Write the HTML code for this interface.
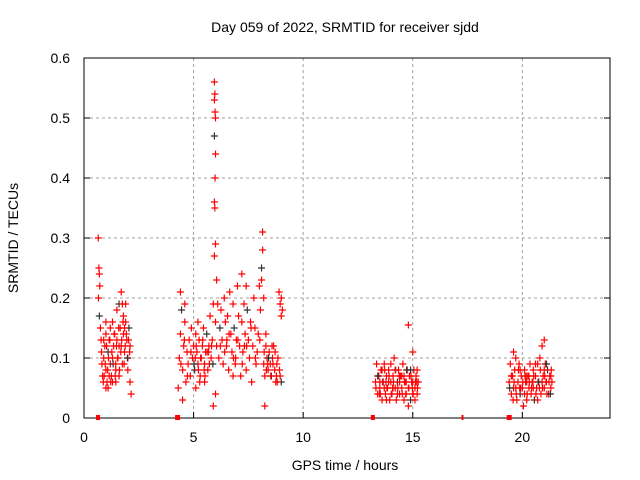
<!DOCTYPE html>
<html><head><meta charset="utf-8"><style>
body{margin:0;background:#fff}
svg{display:block;font-family:"Liberation Sans",sans-serif}
</style></head><body>
<svg id="c" width="640" height="480">
<text x="345" y="32" text-anchor="middle" font-size="14">Day 059 of 2022, SRMTID for receiver sjdd</text>
<text x="18" y="238" text-anchor="middle" font-size="14" transform="rotate(-90 18 238)">SRMTID / TECUs</text>
<text x="345" y="470" text-anchor="middle" font-size="14">GPS time / hours</text>
<g id="grid"></g>
<g id="axes"></g>
<g id="pts"></g>
<g id="marks"></g>
</svg>
<script>
const xTicks=[0,5,10,15,20];
const yTicks=[0,0.1,0.2,0.3,0.4,0.5,0.6];
const yTickLabels=["0","0.1","0.2","0.3","0.4","0.5","0.6"];
const times=[0.65,0.68,0.70,0.72,0.66,0.70,0.75,0.78,0.80,0.82,0.85,0.88,0.90,0.95,1.0,1.0,1.05,1.1,1.1,1.15,1.2,1.25,1.3,1.3,1.35,1.4,1.45,1.5,1.5,1.55,1.6,1.6,1.65,1.7,1.7,1.75,1.8,1.8,1.85,1.9,1.9,1.95,2.0,2.0,2.05,2.1,2.1,2.15,1.45,1.2,0.9,1.0,1.75,
4.3,4.35,4.4,4.4,4.45,4.5,4.5,4.55,4.6,4.65,4.7,4.75,4.8,4.85,4.9,4.95,5.0,5.05,5.1,5.1,5.15,5.2,5.25,5.3,5.35,5.4,5.45,5.5,5.5,5.55,5.6,5.65,5.7,5.75,5.8,5.85,5.9,5.9,5.95,5.97,5.95,5.98,6.0,5.95,6.0,5.98,5.95,5.97,6.0,5.95,6.05,6.1,6.0,6.0,6.05,6.15,6.2,6.25,6.3,6.35,6.4,6.45,6.5,6.55,6.6,6.65,6.7,6.75,6.8,6.85,6.9,6.95,7.0,7.05,7.1,7.15,7.2,7.2,7.25,7.3,7.35,7.4,7.45,7.5,7.55,7.6,7.65,7.7,7.75,7.8,7.85,7.9,7.95,8.0,8.05,8.1,8.15,8.15,8.1,8.2,8.2,8.25,8.25,8.3,8.35,8.4,8.45,8.5,8.55,8.6,8.65,8.7,8.75,8.8,8.85,8.9,8.95,9.0,9.0,9.05,8.95,9.0,4.6,5.2,6.8,7.4,8.3,
13.3,13.35,13.4,13.45,13.5,13.55,13.6,13.65,13.7,13.75,13.8,13.85,13.9,13.95,14.0,14.05,14.1,14.15,14.2,14.25,14.3,14.35,14.4,14.45,14.5,14.55,14.6,14.65,14.7,14.75,14.8,14.8,14.85,14.9,14.95,15.0,15.0,15.05,15.1,15.15,15.2,15.25,13.4,13.6,13.8,14.0,14.2,14.4,14.6,14.8,15.0,15.2,13.5,13.7,13.9,14.1,14.3,14.5,14.7,14.9,15.1,
19.4,19.45,19.5,19.55,19.6,19.6,19.65,19.7,19.75,19.8,19.85,19.9,19.95,20.0,20.05,20.1,20.15,20.2,20.25,20.3,20.35,20.4,20.45,20.5,20.55,20.6,20.65,20.7,20.75,20.8,20.85,20.9,20.95,21.0,21.0,21.05,21.1,21.15,21.2,21.25,21.3,21.35,19.5,19.7,19.9,20.1,20.3,20.5,20.7,20.9,21.1,21.3,20.2,20.6,21.0,
0.92,0.97,1.03,1.08,1.12,1.18,1.22,1.27,1.33,1.38,1.42,1.48,1.53,1.58,1.62,1.68,1.72,1.78,1.83,1.88,1.93,1.98,2.03,2.08,1.00,1.15,1.30,1.45,1.60,1.85,
4.42,4.58,4.72,4.88,5.02,5.12,5.22,5.32,5.42,5.52,5.62,5.72,5.82,5.08,5.28,5.48,5.68,5.88,6.22,6.42,6.62,6.82,7.02,7.22,7.42,7.62,7.82,8.02,8.22,8.32,8.42,8.52,8.62,8.72,8.82,8.92,8.38,8.58,8.78,6.52,6.92,7.32,
13.32,13.42,13.52,13.62,13.72,13.82,13.92,14.02,14.12,14.22,14.32,14.42,14.52,14.62,14.72,14.82,14.92,15.02,15.12,15.22,13.48,13.78,14.08,14.38,14.68,14.98,15.18,
19.42,19.52,19.62,19.72,19.82,19.92,20.02,20.12,20.22,20.32,20.42,20.52,20.62,20.72,20.82,20.92,21.02,21.12,21.22,21.32,19.58,19.88,20.18,20.48,20.78,21.08,21.28];
const values=[.30,.25,.24,.22,.20,.17,.15,.13,.11,.09,.07,.06,.10,.12,.14,.08,.06,.05,.11,.13,.09,.07,.16,.10,.12,.14,.08,.18,.13,.10,.07,.19,.15,.21,.12,.09,.17,.14,.11,.16,.19,.13,.10,.08,.15,.12,.06,.04,.06,.15,.13,.16,.19,
.05,.10,.14,.21,.18,.08,.03,.12,.16,.06,.11,.09,.13,.07,.15,.10,.12,.08,.05,.14,.11,.09,.13,.07,.10,.12,.15,.09,.06,.11,.14,.08,.12,.17,.10,.13,.02,.19,.56,.54,.53,.51,.50,.47,.44,.40,.36,.35,.29,.27,.23,.19,.16,.04,.12,.10,.15,.18,.13,.09,.20,.16,.12,.17,.08,.21,.14,.11,.19,.15,.09,.13,.22,.17,.12,.07,.24,.16,.11,.19,.14,.08,.18,.13,.10,.16,.06,.12,.20,.15,.09,.11,.14,.22,.18,.25,.28,.31,.23,.20,.09,.07,.02,.12,.10,.08,.11,.09,.07,.10,.12,.08,.06,.09,.10,.21,.19,.17,.20,.18,.07,.06,.19,.16,.07,.22,.14,
.06,.09,.04,.07,.05,.08,.03,.06,.09,.04,.07,.05,.08,.03,.06,.04,.07,.10,.05,.03,.06,.08,.04,.07,.05,.09,.03,.06,.04,.08,.155,.05,.07,.03,.06,.11,.04,.08,.05,.07,.04,.06,.07,.08,.03,.09,.08,.06,.07,.02,.06,.08,.06,.05,.06,.05,.04,.07,.06,.08,.03,
.06,.09,.04,.07,.11,.05,.08,.10,.03,.06,.09,.04,.07,.05,.02,.08,.06,.03,.07,.05,.09,.04,.06,.08,.03,.07,.05,.09,.06,.10,.04,.12,.07,.13,.05,.09,.06,.08,.04,.07,.05,.06,.07,.05,.08,.04,.07,.05,.03,.06,.09,.07,.06,.09,.08,
.07,.09,.12,.08,.10,.13,.06,.11,.09,.14,.07,.12,.10,.15,.08,.11,.13,.16,.09,.12,.14,.10,.13,.11,.05,.07,.06,.09,.12,.15,
.09,.13,.07,.11,.09,.12,.08,.10,.13,.07,.11,.09,.12,.10,.06,.08,.11,.09,.12,.11,.14,.10,.13,.09,.12,.15,.10,.13,.11,.08,.10,.07,.09,.11,.06,.08,.09,.12,.07,.13,.10,.12,
.05,.07,.04,.06,.08,.05,.07,.04,.06,.08,.05,.07,.04,.06,.08,.05,.07,.04,.06,.05,.04,.06,.05,.07,.04,.05,.06,
.05,.07,.06,.04,.08,.05,.06,.07,.04,.06,.05,.07,.04,.06,.08,.05,.07,.04,.06,.08,.03,.05,.07,.06,.05,.06,.04];
const gapTimes=[0.64,4.27,13.18,17.27,19.4];
const gapWidths=[4,5,4,2,5];
const X0=84,X1=610,Y0=418,Y1=58;
const xs=t=>X0+(X1-X0)*t/24;
const ys=v=>Y0-(Y0-Y1)*v/0.6;
const NS="http://www.w3.org/2000/svg";
function mk(tag,attrs,parent){const e=document.createElementNS(NS,tag);for(const k in attrs)e.setAttribute(k,attrs[k]);parent.appendChild(e);return e;}
const grid=document.getElementById('grid'),axes=document.getElementById('axes'),pts=document.getElementById('pts'),marks=document.getElementById('marks');
xTicks.forEach((t,i)=>{
  if(t>0){const g=mk('line',{x1:xs(t),x2:xs(t),y1:Y1,y2:Y0,stroke:'#a0a0a0','stroke-dasharray':'3,3'},grid);
  
  }
  const tk=mk('line',{x1:xs(t),x2:xs(t),y1:Y0,y2:Y0-6,stroke:'#000'},axes);
  
  
  const lb=mk('text',{x:xs(t),y:442,'text-anchor':'middle','font-size':14},axes);
  lb.textContent=String(t);
  
  
});
yTicks.forEach((v,i)=>{
  if(v>0&&v<0.6){const g=mk('line',{x1:X0,x2:X1,y1:ys(v),y2:ys(v),stroke:'#a0a0a0','stroke-dasharray':'3,3'},grid);
  
  }
  const tk=mk('line',{x1:X0,x2:X0+6,y1:ys(v),y2:ys(v),stroke:'#000'},axes);
  
  
  const tk2=mk('line',{x1:X1,x2:X1-6,y1:ys(v),y2:ys(v),stroke:'#000'},axes);
  
  
  const lb=mk('text',{x:70,y:ys(v)+5,'text-anchor':'end','font-size':14},axes);
  lb.textContent=yTickLabels[i];
  
  
});
const fr=mk('rect',{x:X0,y:Y1,width:X1-X0,height:Y0-Y1,fill:'none',stroke:'#000'},axes);


times.forEach((t,i)=>{
  const x=xs(t),y=ys(values[i]);
  const p=mk('path',{d:`M${x-3.5},${y}H${x+3.5}M${x},${y-3.5}V${y+3.5}`,stroke:(i%13===5)?'#333':'#f00','stroke-width':1.2,fill:'none'},pts);
  
  
});
gapTimes.forEach((t,i)=>{
  const r=mk('rect',{x:xs(t)-gapWidths[i]/2,y:Y0-3,width:gapWidths[i],height:5,fill:'#f00'},marks);
  
  
});
</script>
</body></html>
